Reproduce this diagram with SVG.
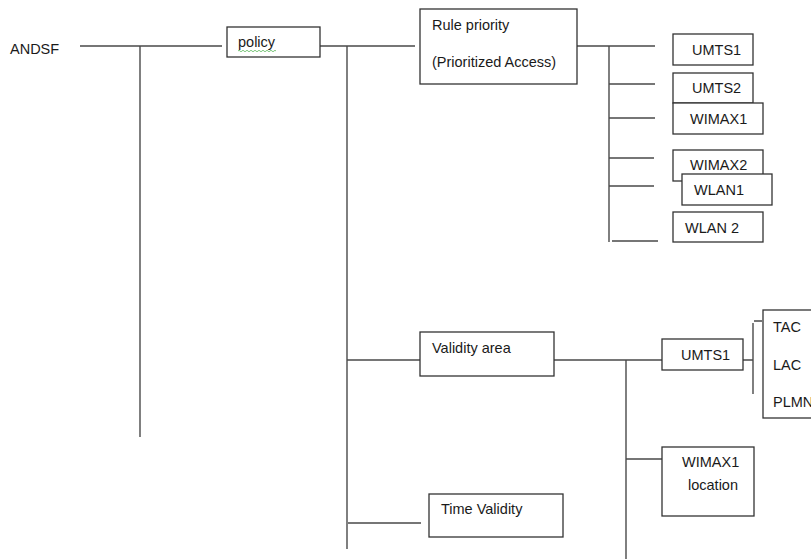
<svg xmlns="http://www.w3.org/2000/svg" width="811" height="559" viewBox="0 0 811 559">
  <style>
    .box { fill: #ffffff; stroke: #333333; stroke-width: 1.3; }
    .wire { fill: none; stroke: #4a4a4a; stroke-width: 1.4; }
    .lbl { font-family: "Liberation Sans", Arial, sans-serif; font-size: 14.5px; fill: #1a1a1a; }
  </style>
  <rect width="811" height="559" fill="#ffffff"/>

  <!-- connectors -->
  <g id="connectors">
    <path class="wire" d="M80 46 H222 M140 46 V437"/>
    <path class="wire" d="M320 46 H415 M347 46 V549 M347 360 H420 M348 523 H421"/>
    <path class="wire" d="M577 46 H655 M609 46 V242 M609 84 H655 M609 118 H655 M609 158 H654 M609 186 H654 M612 241 H658"/>
    <path class="wire" d="M554 360 H662 M626 360 V559 M626 459 H662"/>
    <path class="wire" d="M743 360 H753 M753 323 V394 M754 321 H762"/>
  </g>

  <g id="andsf">
    <text class="lbl" x="10" y="54">ANDSF</text>
  </g>

  <g id="policy">
    <rect class="box" x="227" y="27" width="93" height="30"/>
    <text class="lbl" x="238" y="47">policy</text>
    <path d="M238 51 q1 -1.5 2 0 t2 0 t2 0 t2 0 t2 0 t2 0 t2 0 t2 0 t2 0 t2 0 t2 0 t2 0 t2 0 t2 0 t2 0 t2 0 t2 0 t2 0 t2 0" fill="none" stroke="#5cb85c" stroke-width="0.8"/>
  </g>

  <g id="rule-priority">
    <rect class="box" x="420" y="9" width="157" height="75"/>
    <text class="lbl" x="432" y="30">Rule priority</text>
    <text class="lbl" x="432" y="67">(Prioritized Access)</text>
  </g>

  <g id="rp-umts1">
    <rect class="box" x="673" y="34" width="80" height="31"/>
    <text class="lbl" x="692" y="55">UMTS1</text>
  </g>
  <g id="rp-umts2">
    <rect class="box" x="673" y="73" width="80" height="30"/>
    <text class="lbl" x="692" y="93">UMTS2</text>
  </g>
  <g id="rp-wimax1">
    <rect class="box" x="673" y="103" width="90" height="31"/>
    <text class="lbl" x="690" y="124">WIMAX1</text>
  </g>
  <g id="rp-wimax2">
    <rect class="box" x="673" y="150" width="90" height="31"/>
    <text class="lbl" x="690" y="170">WIMAX2</text>
  </g>
  <g id="rp-wlan1">
    <rect class="box" x="682" y="174" width="90" height="31"/>
    <text class="lbl" x="694" y="195">WLAN1</text>
  </g>
  <g id="rp-wlan2">
    <rect class="box" x="673" y="212" width="90" height="30"/>
    <text class="lbl" x="685" y="233">WLAN 2</text>
  </g>

  <g id="validity-area">
    <rect class="box" x="420" y="332" width="134" height="44"/>
    <text class="lbl" x="432" y="353">Validity area</text>
  </g>

  <g id="va-umts1">
    <rect class="box" x="662" y="339" width="81" height="31"/>
    <text class="lbl" x="681" y="360">UMTS1</text>
  </g>

  <g id="va-umts1-codes">
    <rect class="box" x="763" y="310" width="60" height="108"/>
    <text class="lbl" x="773" y="332">TAC</text>
    <text class="lbl" x="773" y="370">LAC</text>
    <text class="lbl" x="773" y="407">PLMN</text>
  </g>

  <g id="va-wimax1">
    <rect class="box" x="662" y="447" width="92" height="69"/>
    <text class="lbl" x="682" y="467">WIMAX1</text>
    <text class="lbl" x="688" y="490">location</text>
  </g>

  <g id="time-validity">
    <rect class="box" x="429" y="494" width="134" height="43"/>
    <text class="lbl" x="441" y="514">Time Validity</text>
  </g>
</svg>
